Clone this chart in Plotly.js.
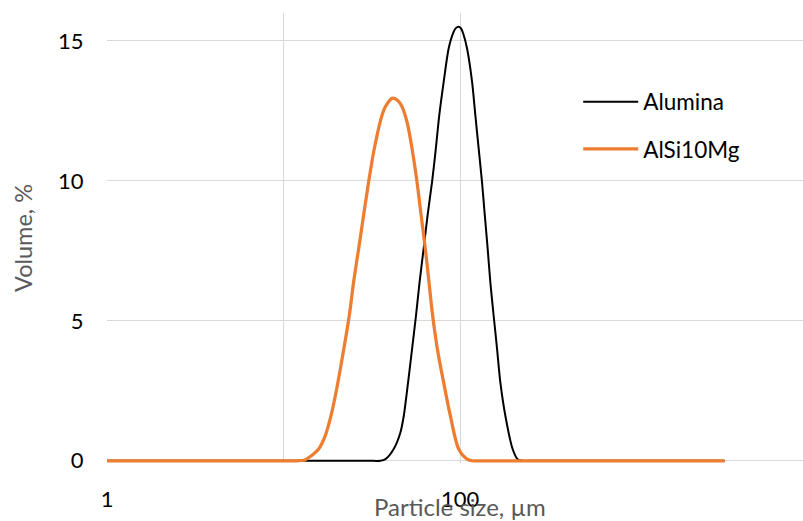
<!DOCTYPE html>
<html>
<head>
<meta charset="utf-8">
<script src="https://cdn.plot.ly/plotly-3.0.1.min.js"></script>
<style>
  html, body { margin: 0; padding: 0; background: #ffffff; }
  #chart { width: 803px; height: 521px; }
</style>
</head>
<body>
<div id="chart"></div>
<script>
// Particle size (µm) and volume (%)
const aluminaSize = [1, 10, 30, 35.4, 37.8, 42.1, 45.9, 48.0, 50.1, 53.5, 56.3, 59.0, 62.2, 65.5, 69.4, 72.5, 76.3, 80.8, 86.2, 91.6, 94.4, 98.2, 101.2, 104.4, 109.6, 117.0, 122.1, 127.5, 133.2, 137.8, 143.4, 148.5, 155.0, 162.1, 169.2, 180.6, 198.6, 212.1, 225.4, 260, 1000, 3150];
const aluminaVol  = [0, 0, 0, 0, 0.06, 0.42, 1.0, 1.6, 2.5, 4.0, 5.19, 6.38, 7.58, 8.77, 9.96, 11.0, 12.35, 13.54, 14.73, 15.3, 15.45, 15.51, 15.45, 15.25, 14.73, 13.54, 12.35, 11.16, 9.96, 8.85, 7.58, 6.38, 5.19, 4.0, 2.8, 1.61, 0.42, 0.05, 0, 0, 0, 0];

const alsiSize = [1, 5, 10, 12.0, 13.2, 14.19, 15.81, 17.25, 18.58, 19.84, 20.98, 23.60, 24.96, 26.65, 28.43, 30.35, 32.69, 36.14, 37.75, 41.19, 44.2, 46.93, 50.3, 53.46, 57.07, 59.58, 63.59, 66.39, 69.95, 75.06, 80.75, 88.11, 98.19, 109.6, 117.4, 140, 1000, 3150];
const alsiVol  = [0, 0, 0, 0, 0.03, 0.15, 0.42, 0.9, 1.61, 2.45, 3.28, 5.2, 6.4, 7.58, 8.77, 9.96, 11.16, 12.35, 12.65, 12.95, 12.88, 12.65, 12.06, 11.16, 9.96, 9.0, 7.58, 6.5, 5.19, 3.85, 2.8, 1.61, 0.42, 0.06, 0, 0, 0, 0];

const seriesNames = ["Alumina", "AlSi10Mg"];
const xTickVals = [1, 10, 100];
const xTickText = ["1", "", "100"];
const yTickVals = [0, 5, 10, 15];

const FONT = "Lato, 'Open Sans', sans-serif";

const traces = [
  {
    x: aluminaSize, y: aluminaVol, name: seriesNames[0],
    type: "scatter", mode: "lines",
    line: { color: "#000000", width: 2, shape: "spline", smoothing: 0.8 },
    legendgroup: "a"
  },
  {
    x: alsiSize, y: alsiVol, name: seriesNames[1],
    type: "scatter", mode: "lines",
    line: { color: "#ED7D31", width: 3.25, shape: "spline", smoothing: 0.8 },
    legendgroup: "b"
  }
];

const layout = {
  width: 803, height: 521,
  margin: { l: 107, r: 0, t: 13, b: 58 },
  paper_bgcolor: "#ffffff", plot_bgcolor: "#ffffff",
  font: { family: FONT, size: 22, color: "#000000" },
  showlegend: true,
  legend: {
    x: 0.677, xanchor: "left", y: 0.85, yanchor: "top",
    bgcolor: "rgba(0,0,0,0)", borderwidth: 0,
    font: { family: FONT, size: 22.5, color: "#000000" },
    traceorder: "grouped", tracegroupgap: 15, itemwidth: 55
  },
  xaxis: {
    type: "log", range: [0, 3.943],
    tickmode: "array", tickvals: xTickVals, ticktext: xTickText,
    showgrid: true, gridcolor: "#D9D9D9", gridwidth: 1,
    zeroline: false, showline: false,
    ticks: "outside", ticklen: 0, tickcolor: "rgba(0,0,0,0)",
    ticklabelstandoff: 17,
    tickfont: { family: FONT, size: 22, color: "#000000" },
    automargin: false
  },
  yaxis: {
    range: [-0.08, 16],
    tickmode: "array", tickvals: yTickVals,
    showgrid: true, gridcolor: "#D9D9D9", gridwidth: 1,
    zeroline: false, showline: false,
    ticks: "outside", ticklen: 0, tickcolor: "rgba(0,0,0,0)",
    ticklabelstandoff: 18,
    tickfont: { family: FONT, size: 22, color: "#000000" },
    title: { text: "Volume, %", font: { family: FONT, size: 23.5, color: "#595959" }, standoff: 18 },
    automargin: false
  },
  annotations: [
    {
      text: "Particle size, µm", xref: "paper", yref: "paper",
      x: 0.507, y: -0.097, xanchor: "center", yanchor: "middle",
      showarrow: false,
      font: { family: FONT, size: 24, color: "#595959" }
    }
  ]
};

Plotly.newPlot("chart", traces, layout, { displayModeBar: false, staticPlot: true });
</script>
</body>
</html>
